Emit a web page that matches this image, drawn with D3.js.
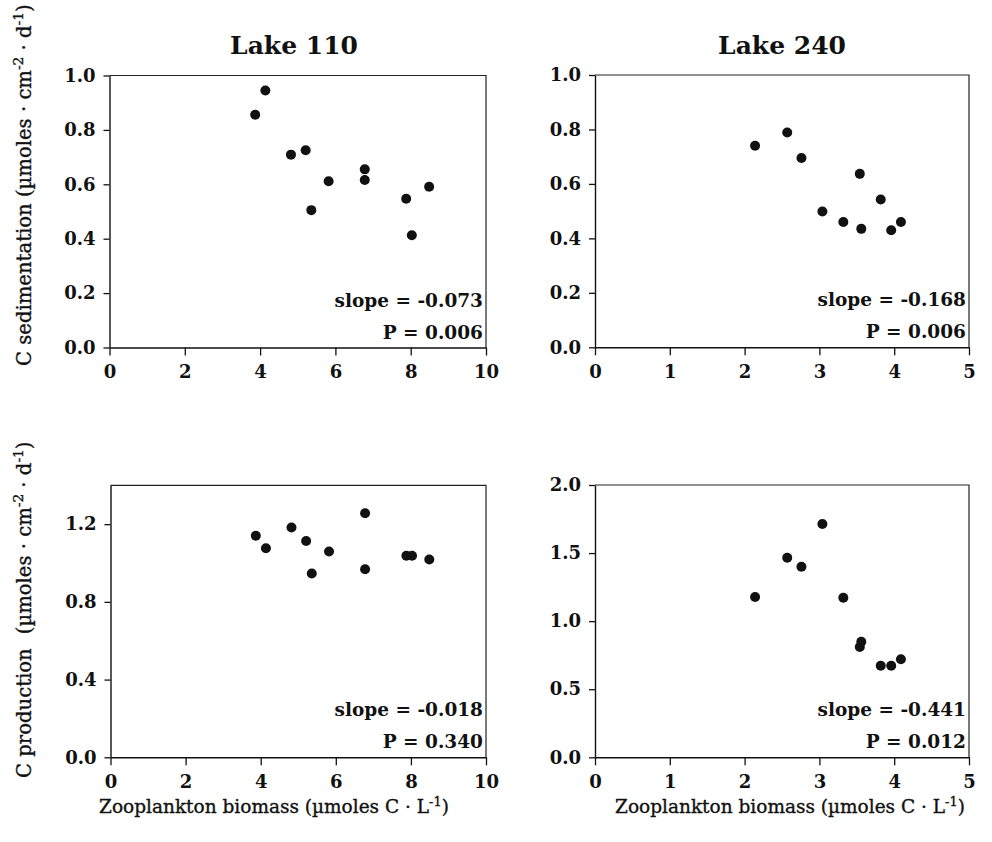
<!DOCTYPE html>
<html>
<head>
<meta charset="utf-8">
<script src="https://cdn.jsdelivr.net/npm/d3@7"></script>
<style>
  html, body { margin: 0; padding: 0; background: #fff; }
  svg { display: block; }
  text { font-family: "DejaVu Serif", "Liberation Serif", serif; fill: #111; }
  .tick text { font-weight: bold; }
  .axis-title { stroke: #111; stroke-width: 0.35px; }
</style>
</head>
<body>
<svg id="chart" width="992" height="842"></svg>
<script>
// Zooplankton biomass (µmoles C · L-1) for each sampling date
const lake110Biomass = [3.87, 4.14, 4.82, 5.21, 5.36, 5.82, 6.78, 6.78, 7.88, 8.03, 8.49];
const lake110Sedimentation = [0.856, 0.945, 0.709, 0.725, 0.505, 0.611, 0.655, 0.616, 0.547, 0.413, 0.591];
const lake110Production = [1.140, 1.076, 1.183, 1.113, 0.946, 1.059, 1.256, 0.968, 1.037, 1.037, 1.018];

const lake240Biomass = [2.14, 2.57, 2.76, 3.04, 3.32, 3.54, 3.56, 3.82, 3.96, 4.09];
const lake240Sedimentation = [0.740, 0.789, 0.695, 0.499, 0.460, 0.637, 0.435, 0.543, 0.430, 0.460];
const lake240Production = [1.177, 1.466, 1.400, 1.713, 1.172, 0.810, 0.849, 0.673, 0.673, 0.720];

// Axis ticks
const lake110XTicks = [0, 2, 4, 6, 8, 10];
const lake240XTicks = [0, 1, 2, 3, 4, 5];
const sedimentationTicks = [0, 0.2, 0.4, 0.6, 0.8, 1.0];
const lake110ProductionTicks = [0, 0.4, 0.8, 1.2];
const lake240ProductionTicks = [0, 0.5, 1.0, 1.5, 2.0];

// Regression results
const lakeTitles = ["Lake 110", "Lake 240"];
const slopes = ["-0.073", "-0.168", "-0.018", "-0.441"];
const pValues = ["0.006", "0.006", "0.340", "0.012"];

const svg = d3.select("#chart");

const panels = [
  { x: lake110Biomass, y: lake110Sedimentation, xMax: 10, yMax: 1.0, xTicks: lake110XTicks, yTicks: sedimentationTicks,
    left: 109.5, top: 75.5, width: 376.5, height: 272, slope: slopes[0], p: pValues[0] },
  { x: lake240Biomass, y: lake240Sedimentation, xMax: 5, yMax: 1.0, xTicks: lake240XTicks, yTicks: sedimentationTicks,
    left: 595, top: 75, width: 374, height: 272.3, slope: slopes[1], p: pValues[1] },
  { x: lake110Biomass, y: lake110Production, xMax: 10, yMax: 1.4, xTicks: lake110XTicks, yTicks: lake110ProductionTicks,
    left: 110.5, top: 485.3, width: 375.5, height: 272, slope: slopes[2], p: pValues[2] },
  { x: lake240Biomass, y: lake240Production, xMax: 5, yMax: 2.0, xTicks: lake240XTicks, yTicks: lake240ProductionTicks,
    left: 595, top: 485, width: 374, height: 272.3, slope: slopes[3], p: pValues[3] }
];

panels.forEach(pn => {
  const g = svg.append("g").attr("transform", `translate(${pn.left},${pn.top})`);
  const x = d3.scaleLinear().domain([0, pn.xMax]).range([0, pn.width]);
  const y = d3.scaleLinear().domain([0, pn.yMax]).range([pn.height, 0]);

  // frame (top and right edges)
  g.append("path")
    .attr("d", `M0,0H${pn.width}V${pn.height}`)
    .attr("fill", "none").attr("stroke", "#222").attr("stroke-width", 1.2);

  const xAxis = g.append("g").attr("transform", `translate(0,${pn.height})`)
    .call(d3.axisBottom(x).tickValues(pn.xTicks).tickFormat(d3.format("d")).tickSize(8).tickSizeOuter(0).tickPadding(10));
  const yAxis = g.append("g")
    .call(d3.axisLeft(y).tickValues(pn.yTicks).tickFormat(d3.format(".1f")).tickSize(6).tickSizeOuter(0).tickPadding(8));

  [xAxis, yAxis].forEach(a => {
    a.select(".domain").attr("stroke", "#111").attr("stroke-width", 1.4);
    a.selectAll(".tick line").attr("stroke", "#111").attr("stroke-width", 1.3);
    a.selectAll(".tick text").attr("font-size", 18).attr("fill", "#111");
  });

  const pts = pn.x.map((v, i) => [v, pn.y[i]]);
  g.selectAll("circle.pt").data(pts).enter().append("circle")
    .attr("class", "pt")
    .attr("cx", d => x(d[0])).attr("cy", d => y(d[1]))
    .attr("r", 5).attr("fill", "#111");

  g.append("text").attr("x", pn.width - 3).attr("y", pn.height - 41)
    .attr("text-anchor", "end").attr("font-size", 18.5).attr("font-weight", "bold")
    .text(`slope = ${pn.slope}`);
  g.append("text").attr("x", pn.width - 3).attr("y", pn.height - 9)
    .attr("text-anchor", "end").attr("font-size", 18.5).attr("font-weight", "bold")
    .text(`P = ${pn.p}`);
});

// Lake titles
svg.append("text").attr("x", 294).attr("y", 54).attr("text-anchor", "middle")
  .attr("font-size", 25).attr("font-weight", "bold").text(lakeTitles[0]);
svg.append("text").attr("x", 782).attr("y", 54).attr("text-anchor", "middle")
  .attr("font-size", 25).attr("font-weight", "bold").text(lakeTitles[1]);

// Axis titles with superscript exponents
function unitLabel(sel, parts) {
  return parts.map(p => {
    const t = sel.append("tspan").text(p.t);
    if (p.sup) t.attr("baseline-shift", "super").attr("font-size", "70%");
    return t;
  });
}

function fitLength(sel, target) {
  const fs = parseFloat(sel.attr("font-size"));
  const len = sel.node().getComputedTextLength();
  const size = fs * target / len;
  sel.attr("font-size", size.toFixed(2));
  return size;
}

const yTitle1 = svg.append("text")
  .attr("class", "axis-title")
  .attr("transform", "translate(31,366) rotate(-90)")
  .attr("text-anchor", "start").attr("font-size", 18);
unitLabel(yTitle1, [{t: "C sedimentation (µmoles · cm"}, {t: "-2", sup: true}, {t: " · d"}, {t: "-1", sup: true}, {t: ")"}]);
const yTitleSize = fitLength(yTitle1, 362);

// Lower title: same size, with a wider gap before the units
const yTitle2 = svg.append("text")
  .attr("class", "axis-title")
  .attr("transform", "translate(31,778) rotate(-90)")
  .attr("text-anchor", "start").attr("font-size", yTitleSize.toFixed(2));
const parts2 = unitLabel(yTitle2, [{t: "C production"}, {t: "(µmoles · cm"}, {t: "-2", sup: true}, {t: " · d"}, {t: "-1", sup: true}, {t: ")"}]);
parts2[1].attr("dx", 14);

[[274, 813], [790, 813]].forEach(([cx, cy]) => {
  const t = svg.append("text").attr("class", "axis-title").attr("x", cx).attr("y", cy)
    .attr("text-anchor", "middle").attr("font-size", 18);
  unitLabel(t, [{t: "Zooplankton biomass (µmoles C · L"}, {t: "-1", sup: true}, {t: ")"}]);
  fitLength(t, 350);
});
</script>
</body>
</html>
